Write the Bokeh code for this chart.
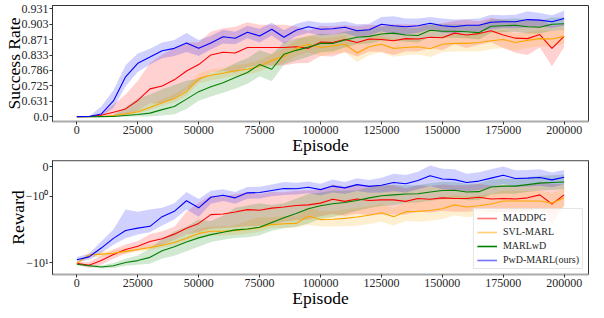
import numpy as np
from bokeh.plotting import figure
from bokeh.layouts import column
from bokeh.models import (Range1d, FixedTicker, BasicTickFormatter, Span,
                          Legend, LegendItem, ColumnDataSource)
from bokeh.embed import file_html
from bokeh.resources import INLINE

# ---------------- data ----------------
episodes = list(range(0, 200001, 5000))
methods = ["MADDPG", "SVL-MARL", "MARLwD", "PwD-MARL(ours)"]
colors = ["#ff0000", "#ffa500", "#008000", "#0000ff"]

# success rate (mean)
sr_maddpg = [0.0, 0.2, 0.385, 0.491, 0.549, 0.637, 0.710, 0.724, 0.751, 0.784, 0.805, 0.833, 0.840, 0.838,
             0.852, 0.852, 0.852, 0.852, 0.854, 0.850, 0.865, 0.864, 0.871, 0.864, 0.872, 0.871, 0.868, 0.873,
             0.872, 0.876, 0.875, 0.885, 0.881, 0.884, 0.890, 0.881, 0.874, 0.873, 0.882, 0.850, 0.878]
sr_svl = [0.0, 0.0, 0.25, 0.374, 0.440, 0.501, 0.568, 0.617, 0.651, 0.695, 0.756, 0.769, 0.776, 0.785,
          0.790, 0.800, 0.817, 0.829, 0.850, 0.860, 0.852, 0.856, 0.860, 0.838, 0.854, 0.860, 0.850, 0.852,
          0.854, 0.849, 0.860, 0.862, 0.862, 0.864, 0.868, 0.871, 0.864, 0.869, 0.873, 0.872, 0.878]
sr_marlwd = [0.0, 0.0, 0.0, 0.25, 0.374, 0.422, 0.468, 0.538, 0.579, 0.647, 0.695, 0.720, 0.739, 0.760,
             0.779, 0.805, 0.790, 0.835, 0.845, 0.853, 0.862, 0.862, 0.870, 0.876, 0.878, 0.883, 0.885, 0.881,
             0.880, 0.891, 0.889, 0.889, 0.888, 0.886, 0.899, 0.900, 0.901, 0.898, 0.897, 0.903, 0.904]
sr_pwd = [0.0, 0.15, 0.440, 0.633, 0.763, 0.809, 0.827, 0.844, 0.850, 0.863, 0.850, 0.863, 0.877, 0.874,
          0.887, 0.879, 0.893, 0.876, 0.891, 0.898, 0.893, 0.894, 0.897, 0.890, 0.892, 0.903, 0.900, 0.898,
          0.900, 0.905, 0.900, 0.898, 0.901, 0.901, 0.907, 0.908, 0.908, 0.912, 0.911, 0.908, 0.914]

# success rate (std)
sr_std_maddpg = [0, 0.03, 0.055, 0.11, 0.13, 0.11, 0.1, 0.11, 0.1, 0.08, 0.06, 0.055, 0.055, 0.06, 0.055,
                 0.05, 0.05, 0.05, 0.045, 0.04, 0.035, 0.035, 0.03, 0.035, 0.03, 0.03, 0.035, 0.03, 0.03,
                 0.025, 0.03, 0.025, 0.03, 0.025, 0.025, 0.03, 0.035, 0.04, 0.03, 0.05, 0.025]
sr_std_svl = [0, 0, 0.03, 0.05, 0.05, 0.04, 0.035, 0.03, 0.03, 0.025, 0.02, 0.02, 0.018, 0.018, 0.018,
              0.018, 0.018, 0.02, 0.02, 0.02, 0.022, 0.02, 0.02, 0.025, 0.022, 0.02, 0.022, 0.02, 0.02,
              0.022, 0.02, 0.02, 0.02, 0.022, 0.02, 0.02, 0.02, 0.018, 0.018, 0.018, 0.016]
sr_std_marlwd = [0, 0, 0.02, 0.15, 0.2, 0.23, 0.21, 0.17, 0.15, 0.1, 0.06, 0.055, 0.05, 0.05, 0.045,
                 0.04, 0.045, 0.03, 0.028, 0.025, 0.022, 0.02, 0.018, 0.016, 0.016, 0.015, 0.016, 0.015,
                 0.016, 0.014, 0.014, 0.014, 0.014, 0.015, 0.013, 0.013, 0.013, 0.014, 0.013, 0.013, 0.012]
sr_std_pwd = [0, 0, 0.14, 0.07, 0.04, 0.028, 0.022, 0.02, 0.02, 0.022, 0.02, 0.016, 0.015, 0.014, 0.013,
              0.015, 0.013, 0.015, 0.013, 0.012, 0.013, 0.012, 0.012, 0.013, 0.012, 0.014, 0.018, 0.016,
              0.014, 0.012, 0.014, 0.014, 0.012, 0.013, 0.014, 0.012, 0.013, 0.015, 0.013, 0.012, 0.014]

# reward (mean)
rw_maddpg = [-10.28, -11.14, -9.11, -7.01, -5.61, -4.88, -3.98, -3.53, -2.88, -2.22, -1.92, -1.62, -1.60,
             -1.53, -1.45, -1.47, -1.40, -1.36, -1.31, -1.29, -1.23, -1.10, -1.17, -1.09, -1.14, -1.12,
             -1.12, -1.17, -1.07, -1.10, -1.05, -1.07, -1.07, -1.03, -1.09, -1.07, -1.09, -1.05, -0.95,
             -1.26, -0.95]
rw_svl = [-10.28, -7.15, -6.87, -6.60, -6.09, -5.61, -5.18, -4.68, -4.15, -3.46, -2.79, -2.54, -2.54,
          -2.48, -2.33, -2.16, -1.96, -1.93, -1.92, -1.67, -1.79, -1.78, -1.75, -1.70, -1.64, -1.56, -1.69,
          -1.52, -1.51, -1.48, -1.42, -1.29, -1.36, -1.32, -1.26, -1.16, -1.16, -1.16, -1.16, -1.23, -1.05]
rw_marlwd = [-10.70, -11.37, -12.08, -11.37, -9.87, -9.11, -7.91, -5.96, -4.97, -4.06, -3.39, -2.94,
             -2.66, -2.39, -2.31, -2.13, -1.89, -1.73, -1.58, -1.42, -1.32, -1.25, -1.21, -1.14, -1.05,
             -0.98, -0.95, -0.92, -0.91, -0.85, -0.80, -0.79, -0.85, -0.84, -0.68, -0.65, -0.65, -0.60,
             -0.55, -0.53, -0.51]
rw_pwd = [-8.75, -7.75, -5.28, -3.46, -2.45, -2.22, -2.05, -1.69, -1.51, -1.15, -1.39, -1.03, -0.96,
          -1.05, -0.88, -0.87, -0.80, -0.73, -0.74, -0.69, -0.77, -0.65, -0.71, -0.60, -0.66, -0.62, -0.53,
          -0.57, -0.46, -0.30, -0.41, -0.43, -0.53, -0.48, -0.38, -0.28, -0.39, -0.38, -0.36, -0.44, -0.35]

# reward (std)
rw_std_maddpg = [0.5, 1.5, 1.8, 1.4, 1.1, 1.0, 1.1, 1.0, 0.8, 0.7, 0.7, 0.65, 0.6, 0.6, 0.6, 0.55, 0.55,
                 0.5, 0.5, 0.5, 0.45, 0.5, 0.5, 0.5, 0.5, 0.5, 0.5, 0.45, 0.45, 0.45, 0.45, 0.45, 0.45,
                 0.45, 0.45, 0.45, 0.45, 0.45, 0.45, 0.7, 0.35]
rw_std_svl = [0.5, 0.8, 0.8, 0.7, 0.7, 0.6, 0.6, 0.5, 0.5, 0.45, 0.55, 0.5, 0.5, 0.5, 0.5, 0.45, 0.25,
              0.25, 0.25, 0.3, 0.28, 0.28, 0.3, 0.3, 0.3, 0.3, 0.3, 0.32, 0.35, 0.35, 0.35, 0.35, 0.35,
              0.35, 0.35, 0.35, 0.35, 0.35, 0.35, 0.35, 0.3]
rw_std_marlwd = [0.5, 0.6, 0.8, 1.2, 1.5, 1.8, 2.5, 2.4, 2.4, 2.0, 1.6, 1.1, 1.0, 1.0, 1.0, 0.9, 0.6, 0.5,
                 0.5, 0.5, 0.45, 0.45, 0.4, 0.35, 0.35, 0.35, 0.35, 0.3, 0.3, 0.3, 0.3, 0.28, 0.28, 0.28,
                 0.25, 0.25, 0.25, 0.25, 0.25, 0.25, 0.25]
rw_std_pwd = [1.0, 1.0, 1.3, 1.1, 1.0, 0.7, 0.6, 0.3, 0.28, 0.3, 0.3, 0.22, 0.2, 0.2, 0.2, 0.2, 0.2, 0.22,
              0.2, 0.2, 0.2, 0.22, 0.2, 0.22, 0.22, 0.25, 0.3, 0.3, 0.3, 0.35, 0.35, 0.35, 0.3, 0.3, 0.3,
              0.3, 0.28, 0.28, 0.28, 0.25, 0.25]

# ticks
episode_ticks = [0, 25000, 50000, 75000, 100000, 125000, 150000, 175000, 200000]
sr_tick_labels = ["0.0", "0.631", "0.725", "0.786", "0.833", "0.871", "0.903", "0.931"]
rw_tick_values = [0, -1, -10]
rw_tick_labels = ["0", "\u221210\u2070", "\u221210\u00b9"]

# ---------------- scales ----------------
def sr_scale(s):
    # the success-rate axis uses a power-5 scale
    return np.clip(np.asarray(s, float), 0.0, 1.0) ** 5


def symlog(r, linthresh=2.0, base=10.0, linscale=1.0):
    r = np.asarray(r, float)
    adj = linscale / (1.0 - 1.0 / base)
    a = np.abs(r)
    logp = np.sign(r) * linthresh * (adj + np.log10(np.maximum(a, 1e-300) / linthresh) / np.log10(base))
    return np.where(a <= linthresh, r * adj, logp)


FONT = "Liberation Serif"
W = 590
DARK = "#333333"
GREY = "#aaaaaa"


def style(p):
    p.grid.visible = False
    p.outline_line_color = DARK
    p.outline_line_width = 1
    for ax in (p.xaxis[0], p.yaxis[0]):
        ax.major_label_text_font = FONT
        ax.major_label_text_font_size = "12px"
        ax.major_label_text_color = "#262626"
        ax.axis_label_text_font = FONT
        ax.axis_label_text_font_size = "17.5px"
        ax.axis_label_text_font_style = "normal"
        ax.axis_label_text_color = "black"
        ax.major_tick_out = 3
        ax.major_tick_in = 0
        ax.minor_tick_out = 0
        ax.minor_tick_in = 0
        ax.major_tick_line_color = DARK
        ax.major_label_standoff = 1
    p.xaxis[0].axis_label_standoff = -2
    p.yaxis[0].axis_label_standoff = -5
    p.xaxis[0].axis_line_color = GREY
    p.xaxis[0].axis_line_width = 2
    p.yaxis[0].axis_line_color = DARK
    p.yaxis[0].axis_line_width = 1
    p.xaxis[0].ticker = FixedTicker(ticks=episode_ticks)
    p.xaxis[0].formatter = BasicTickFormatter(use_scientific=False)
    p.xaxis[0].axis_label = "Episode"


def draw(p, means, stds, fwd):
    x = np.asarray(episodes, float)
    for m, s, c in zip(means, stds, colors):
        m = np.asarray(m, float)
        s = np.asarray(s, float)
        p.varea(x=x, y1=fwd(m - s), y2=fwd(m + s), fill_color=c, fill_alpha=0.18)
    for m, c in zip(means, colors):
        p.line(x, fwd(m), line_color=c, line_width=1.1)


# ---------------- top: success rate ----------------
sr_tick_pos = [round(float(l) ** 5, 1) for l in sr_tick_labels]
p1 = figure(width=W, height=157, x_range=Range1d(-10000, 210000), y_range=Range1d(-0.032, 0.7225),
            output_backend="svg", toolbar_location=None, min_border_left=45, min_border_right=2,
            min_border_top=5, min_border_bottom=0)
style(p1)
p1.yaxis[0].axis_label = "Success Rate"
p1.yaxis[0].ticker = FixedTicker(ticks=sr_tick_pos)
p1.yaxis[0].major_label_overrides = {pos: lab for pos, lab in zip(sr_tick_pos, sr_tick_labels)}
draw(p1, [sr_maddpg, sr_svl, sr_marlwd, sr_pwd], [sr_std_maddpg, sr_std_svl, sr_std_marlwd, sr_std_pwd],
     sr_scale)

# ---------------- bottom: reward ----------------
rw_tick_pos = [float(v) for v in symlog(rw_tick_values)]
p2 = figure(width=W, height=153, x_range=Range1d(-10000, 210000), y_range=Range1d(-4.065, 0.245),
            output_backend="svg", toolbar_location=None, min_border_left=45, min_border_right=2,
            min_border_top=3, min_border_bottom=0)
style(p2)
p2.yaxis[0].axis_label = "Reward"
p2.yaxis[0].ticker = FixedTicker(ticks=rw_tick_pos)
p2.yaxis[0].major_label_overrides = {pos: lab for pos, lab in zip(rw_tick_pos, rw_tick_labels)}
draw(p2, [rw_maddpg, rw_svl, rw_marlwd, rw_pwd], [rw_std_maddpg, rw_std_svl, rw_std_marlwd, rw_std_pwd],
     symlog)
p2.add_layout(Span(location=p2.y_range.end, dimension="width", line_color=GREY, line_width=2))

legend_src = ColumnDataSource(data=dict(x=[np.nan], y=[np.nan]))
legend_alpha = [0.55, 0.55, 1.0, 0.55]
items = []
for name, c, a in zip(methods, colors, legend_alpha):
    r = p2.line("x", "y", source=legend_src, line_color=c, line_width=1.6, line_alpha=a)
    items.append(LegendItem(label=name, renderers=[r]))
legend = Legend(items=items, location="bottom_right", label_text_font=FONT, label_text_font_size="10px",
                label_text_color="#262626", glyph_width=20, glyph_height=10, label_height=10,
                label_standoff=6, spacing=3, padding=3, margin=5, border_line_color="#cccccc",
                border_line_width=1, background_fill_alpha=0.8)
p2.add_layout(legend)

layout = column(p1, p2, spacing=0)
open("out.html", "w").write(file_html(layout, INLINE))
